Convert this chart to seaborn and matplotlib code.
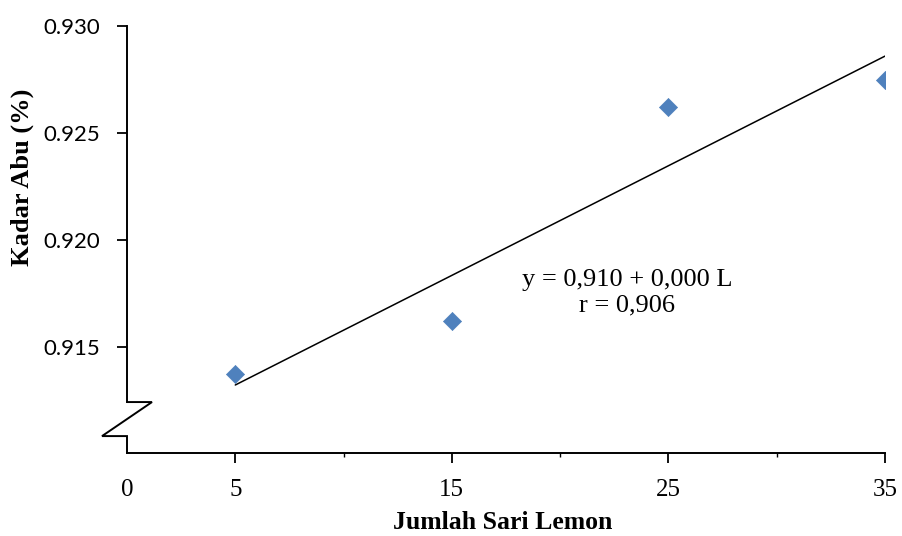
import matplotlib
matplotlib.use("Agg")
import matplotlib.pyplot as plt
import seaborn as sns
import numpy as np
import pandas as pd

# Data
lemon = [5, 15, 25, 35]
ash = [0.91374, 0.91621, 0.92621, 0.92748]
x_ticks = [0, 5, 15, 25, 35]
y_ticks = [0.915, 0.920, 0.925, 0.930]
y_ticklabels = ["0.915", "0.920", "0.925", "0.930"]
equation = "y = 0,910 + 0,000 L\nr = 0,906"

df = pd.DataFrame({"lemon": lemon, "ash": ash})

sns.set_style("white")
plt.rcParams["text.color"] = "black"
plt.rcParams["axes.labelcolor"] = "black"
plt.rcParams["xtick.color"] = "black"
plt.rcParams["ytick.color"] = "black"

fig = plt.figure(figsize=(9.02, 5.36), dpi=100)
ax = fig.add_axes([127 / 902, 1 - 453 / 536, (885 - 127) / 902, (453 - 26) / 536])

sns.regplot(data=df, x="lemon", y="ash", scatter=False, ci=None, ax=ax,
            color="black", line_kws={"linewidth": 1.1})
sns.scatterplot(data=df, x="lemon", y="ash", marker="D", s=85, color="#4F81BD",
                edgecolor="#4F81BD", linewidth=0.5, ax=ax, zorder=3)

ax.set_xlim(0, 35)
ax.set_ylim(0.91005, 0.930)

ax.set_xticks(x_ticks)
ax.set_xticklabels([str(v) for v in x_ticks], fontfamily="Liberation Serif", fontsize=18)
ax.set_xticks([10, 20, 30], minor=True)
ax.set_yticks(y_ticks)
ax.set_yticklabels(y_ticklabels, fontfamily="Lato", fontsize=16)

ax.tick_params(axis="x", which="major", direction="out", length=7, width=1.3, pad=12,
               bottom=True)
ax.tick_params(axis="x", which="minor", direction="out", length=3, width=1.0, bottom=True)
ax.tick_params(axis="y", which="major", direction="out", length=7, width=1.3, pad=12,
               left=True)
ax.xaxis.get_major_ticks()[0].tick1line.set_visible(False)

for s in ["top", "right"]:
    ax.spines[s].set_visible(False)
for s in ["left", "bottom"]:
    ax.spines[s].set_color("black")
    ax.spines[s].set_linewidth(1.4)

# Axis break on the y axis
brk_top = 0.91243
brk_bot = 0.91084
ax.spines["left"].set_bounds(brk_top, 0.930)
zx = [0, 1.154, -1.154, 0, 0]
zy = [brk_top, brk_top, brk_bot, brk_bot, 0.91005]
ax.plot(zx, zy, color="black", linewidth=1.4, clip_on=False, solid_joinstyle="miter")

ax.set_xlabel("Jumlah Sari Lemon", fontfamily="Liberation Serif", fontweight="bold",
              fontsize=18.5)
ax.set_ylabel("Kadar Abu (%)", fontfamily="Liberation Serif", fontweight="bold",
              fontsize=19)
ax.xaxis.set_label_coords(0.496, -0.162)
ax.yaxis.set_label_coords(-0.1385, 0.646)
ax.xaxis.label.set_va("center")
ax.yaxis.label.set_va("center")

ax.text(23.09, 0.91752, equation, fontfamily="Liberation Serif", fontsize=19,
        ha="center", va="center", linespacing=1.2)

ax.grid(False)
fig.savefig("out.png", dpi=100)
